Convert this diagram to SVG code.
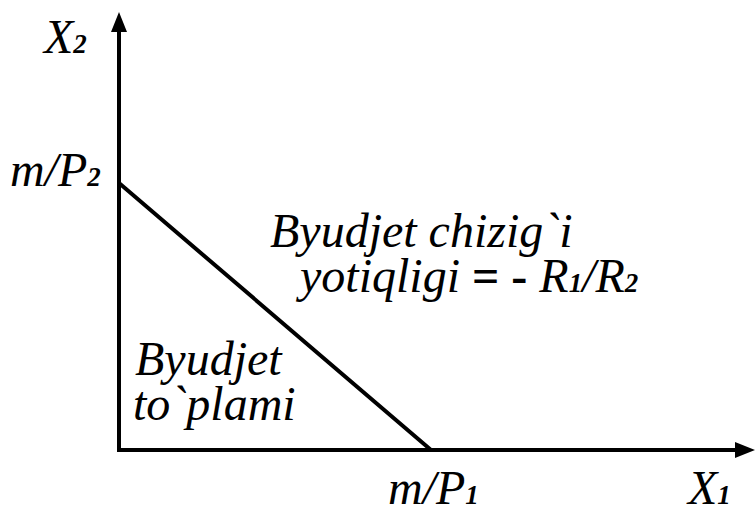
<svg xmlns="http://www.w3.org/2000/svg" width="755" height="508" viewBox="0 0 755 508">
<text x="44" y="53" font-family="Liberation Serif" font-style="italic" font-size="48">X<tspan font-weight="bold" font-size="27">2</tspan></text>
<text x="10" y="186" font-family="Liberation Serif" font-style="italic" font-size="48">m/P<tspan font-weight="bold" font-size="27">2</tspan></text>
<text x="270" y="247" font-family="Liberation Serif" font-style="italic" font-size="48">Byudjet chizig`i</text>
<text x="300" y="292" font-family="Liberation Serif" font-style="italic" font-size="48">yotiqligi <tspan font-weight="bold" font-style="normal">= -</tspan> R<tspan font-weight="bold" font-size="27">1</tspan>/R<tspan font-weight="bold" font-size="27">2</tspan></text>
<text x="135" y="375" font-family="Liberation Serif" font-style="italic" font-size="48">Byudjet</text>
<text x="133" y="420" font-family="Liberation Serif" font-style="italic" font-size="48">to`plami</text>
<text x="388" y="504" font-family="Liberation Serif" font-style="italic" font-size="48">m/P<tspan font-weight="bold" font-size="27">1</tspan></text>
<text x="688" y="504" font-family="Liberation Serif" font-style="italic" font-size="48">X<tspan font-weight="bold" font-size="27">1</tspan></text>
<g id="connectors">
<path d="M119 452 V30 M117 450 H738 M119 183 L431 450" stroke="#000" stroke-width="4" fill="none"/>
<path d="M119 12 L111 32 L127 32 Z M755 450 L735 442 L735 458 Z" fill="#000"/>
</g>
</svg>
